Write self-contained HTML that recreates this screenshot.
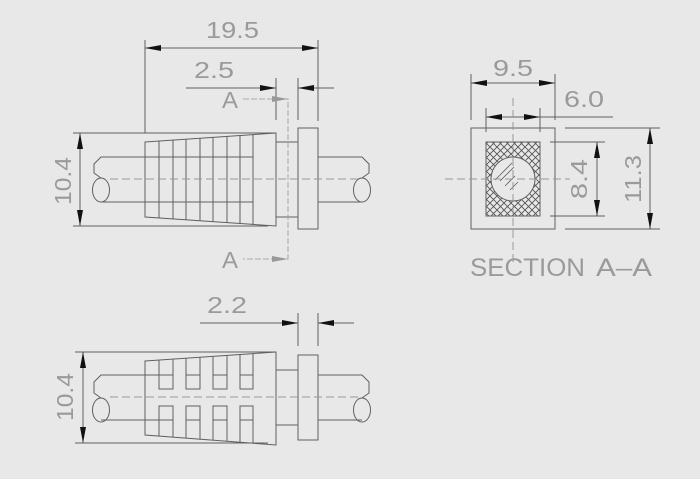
<!DOCTYPE html>
<html><head><meta charset="utf-8"><style>
html,body{margin:0;padding:0;background:#e8e8e8;}
svg{display:block;}
text{font-family:"Liberation Sans",sans-serif;fill:#9a9a9a;}
</style></head><body>
<svg width="700" height="479" viewBox="0 0 700 479" xmlns="http://www.w3.org/2000/svg">
<defs>
<marker id="ar" markerUnits="userSpaceOnUse" markerWidth="16" markerHeight="6" refX="16" refY="3" orient="auto-start-reverse">
<path d="M0,0 L16,3 L0,6 z" fill="#111"/></marker>
<marker id="ga" markerUnits="userSpaceOnUse" markerWidth="16" markerHeight="6" refX="16" refY="3" orient="auto">
<path d="M0,0 L16,3 L0,6 z" fill="#999"/></marker>
<pattern id="hx" patternUnits="userSpaceOnUse" width="7" height="7">
<path d="M0,0 L7,7 M7,0 L0,7" stroke="#555" stroke-width="0.9"/></pattern>
<clipPath id="cc"><circle cx="513" cy="179" r="22"/></clipPath>
</defs>
<rect width="700" height="479" fill="#e8e8e8"/>
<g stroke="#606060" stroke-width="1" fill="none">
<!-- TOP VIEW -->
<line x1="145" y1="40" x2="145" y2="133"/>
<line x1="318" y1="40" x2="318" y2="121"/>
<line x1="145" y1="48" x2="318" y2="48" marker-start="url(#ar)" marker-end="url(#ar)"/>
<line x1="186" y1="88" x2="276" y2="88" marker-end="url(#ar)"/>
<line x1="334" y1="88" x2="298" y2="88" marker-end="url(#ar)"/>
<line x1="276" y1="78" x2="276" y2="120"/>
<line x1="298" y1="78" x2="298" y2="120"/>
<line x1="73" y1="133" x2="276" y2="133"/>
<line x1="73" y1="226" x2="268" y2="226"/>
<line x1="80" y1="133" x2="80" y2="226" marker-start="url(#ar)" marker-end="url(#ar)"/>
<path d="M145,142 L276,133 L276,226 L145,217 Z"/>
<line x1="159" y1="141" x2="159" y2="218"/>
<line x1="173" y1="140" x2="173" y2="219"/>
<line x1="186" y1="139" x2="186" y2="220"/>
<line x1="200" y1="138" x2="200" y2="221"/>
<line x1="213" y1="137" x2="213" y2="222"/>
<line x1="227" y1="136" x2="227" y2="223"/>
<line x1="240" y1="135" x2="240" y2="224"/>
<line x1="253" y1="134" x2="253" y2="225"/>
<line x1="145" y1="157" x2="253" y2="157"/>
<line x1="145" y1="202" x2="253" y2="202"/>
<rect x="276" y="142" width="22" height="75"/>
<rect x="298" y="128" width="20" height="101"/>
<path d="M145,157 L101,157 L94,164 L94,173 L101,178"/>
<ellipse cx="101" cy="190" rx="8.5" ry="12"/>
<line x1="101" y1="202" x2="145" y2="202"/>
<path d="M318,157 L362,157 L369,164 L369,173 L362,178"/>
<ellipse cx="362" cy="190" rx="8.5" ry="12"/>
<line x1="318" y1="202" x2="362" y2="202"/>
<line x1="110" y1="179" x2="360" y2="179" stroke="#999" stroke-dasharray="8,4"/>
<path d="M243,99 L288,99 L288,259 L243,259" stroke="#999" stroke-width="0.8" stroke-dasharray="6,2"/>
<line x1="270" y1="99" x2="288" y2="99" stroke="none" marker-end="url(#ga)"/>
<line x1="270" y1="259" x2="288" y2="259" stroke="none" marker-end="url(#ga)"/>
<!-- SECTION -->
<line x1="471" y1="74" x2="471" y2="120"/>
<line x1="555" y1="74" x2="555" y2="120"/>
<line x1="471" y1="83" x2="555" y2="83" marker-start="url(#ar)" marker-end="url(#ar)"/>
<line x1="486" y1="108" x2="486" y2="132"/>
<line x1="540" y1="108" x2="540" y2="132"/>
<line x1="486" y1="117" x2="540" y2="117" marker-start="url(#ar)" marker-end="url(#ar)"/>
<line x1="540" y1="117" x2="613" y2="117"/>
<rect x="471" y="128" width="84" height="101"/>
<rect x="486" y="142" width="54" height="74" fill="url(#hx)"/>
<circle cx="513" cy="179" r="22" fill="#e8e8e8"/>
<g clip-path="url(#cc)" stroke-width="0.8"><path d="M495,180 L512,163 M500,181 L514,167 M505,186 L515,176 M510,190 L518,182"/></g>
<line x1="445" y1="179" x2="570" y2="179" stroke="#999" stroke-dasharray="8,4"/>
<line x1="513" y1="98" x2="513" y2="262" stroke="#999" stroke-dasharray="8,4"/>
<line x1="550" y1="142" x2="605" y2="142"/>
<line x1="550" y1="216" x2="605" y2="216"/>
<line x1="597" y1="142" x2="597" y2="216" marker-start="url(#ar)" marker-end="url(#ar)"/>
<line x1="565" y1="128" x2="660" y2="128"/>
<line x1="565" y1="229" x2="660" y2="229"/>
<line x1="650" y1="128" x2="650" y2="229" marker-start="url(#ar)" marker-end="url(#ar)"/>
<!-- BOTTOM VIEW -->
<line x1="200" y1="323" x2="298" y2="323" marker-end="url(#ar)"/>
<line x1="354" y1="323" x2="318" y2="323" marker-end="url(#ar)"/>
<line x1="298" y1="313" x2="298" y2="346"/>
<line x1="318" y1="313" x2="318" y2="346"/>
<line x1="75" y1="352" x2="276" y2="352"/>
<line x1="75" y1="443" x2="268" y2="443"/>
<line x1="83" y1="352" x2="83" y2="443" marker-start="url(#ar)" marker-end="url(#ar)"/>
<path d="M145,361 L276,352 L276,445 L145,435 Z"/>
<path d="M159,360 V389 H173 V359 M186,358 V389 H200 V357 M213,356 V389 H227 V355 M240,354 V389 H253 V353"/>
<path d="M159,375 H173 M186,375 H200 M213,375 H227 M240,375 H253"/>
<path d="M159,436 V406 H173 V437 M186,438 V406 H200 V439 M213,440 V406 H227 V441 M240,442 V406 H253 V443"/>
<path d="M159,420 H173 M186,420 H200 M213,420 H227 M240,420 H253"/>
<line x1="145" y1="375" x2="159" y2="375"/>
<line x1="145" y1="420" x2="159" y2="420"/>
<rect x="276" y="370" width="22" height="55"/>
<rect x="298" y="355" width="20" height="85"/>
<path d="M145,375 L101,375 L94,382 L94,393 L101,398"/>
<ellipse cx="101" cy="410" rx="8.5" ry="12"/>
<line x1="101" y1="420" x2="145" y2="420"/>
<path d="M318,375 L362,375 L369,382 L369,393 L362,398"/>
<ellipse cx="362" cy="410" rx="8.5" ry="12"/>
<line x1="318" y1="420" x2="362" y2="420"/>
<line x1="110" y1="397" x2="360" y2="397" stroke="#999" stroke-dasharray="8,4"/>
</g>
<g font-size="23">
<text x="206" y="38" textLength="53" lengthAdjust="spacingAndGlyphs">19.5</text>
<text x="194" y="78" textLength="40" lengthAdjust="spacingAndGlyphs">2.5</text>
<text x="222" y="108" textLength="16" lengthAdjust="spacingAndGlyphs">A</text>
<text x="222" y="268" textLength="16" lengthAdjust="spacingAndGlyphs">A</text>
<text transform="translate(71,181) rotate(-90)" text-anchor="middle" textLength="48" lengthAdjust="spacingAndGlyphs">10.4</text>
<text x="207" y="313" textLength="40" lengthAdjust="spacingAndGlyphs">2.2</text>
<text transform="translate(73,397) rotate(-90)" text-anchor="middle" textLength="48" lengthAdjust="spacingAndGlyphs">10.4</text>
<text x="493" y="76" textLength="40" lengthAdjust="spacingAndGlyphs">9.5</text>
<text x="564" y="107" textLength="40" lengthAdjust="spacingAndGlyphs">6.0</text>
<text transform="translate(587,179) rotate(-90)" text-anchor="middle" textLength="40" lengthAdjust="spacingAndGlyphs">8.4</text>
<text transform="translate(641,179) rotate(-90)" text-anchor="middle" textLength="48" lengthAdjust="spacingAndGlyphs">11.3</text>
<text x="470" y="276" font-size="25" textLength="115" lengthAdjust="spacingAndGlyphs">SECTION</text>
<text x="596" y="276" font-size="25" textLength="56" lengthAdjust="spacingAndGlyphs">A–A</text>
</g>
</svg>
</body></html>
